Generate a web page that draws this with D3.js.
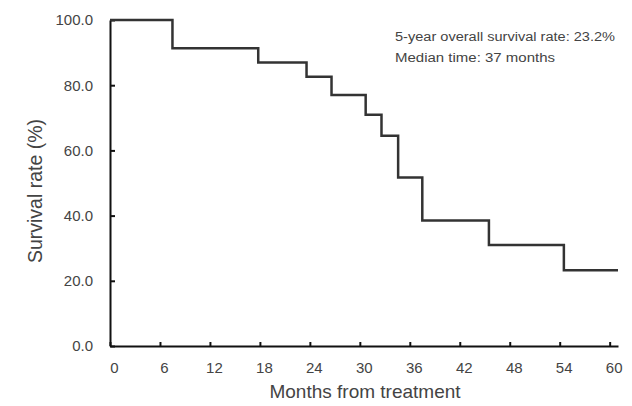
<!DOCTYPE html>
<html>
<head>
<meta charset="utf-8">
<script src="https://cdn.jsdelivr.net/npm/d3@7"></script>
<style>
	body { margin: 0; background: #fff; }
	svg text { font-family: 'Liberation Sans', Arial, sans-serif; fill: #444; }
</style>
</head>
<body>
<svg id="km_chart" width="632" height="406"></svg>
<script>
// Kaplan-Meier steps
var months = [0, 7.5, 17.8, 23.6, 26.6, 30.7, 32.6, 34.6, 37.5, 45.5, 54.5, 61];
var survival = [100, 91.3, 87.0, 82.6, 77.0, 70.9, 64.5, 51.7, 38.5, 31.0, 23.2, 23.2];
var xTicks = [0, 6, 12, 18, 24, 30, 36, 42, 48, 54, 60];
var yTicks = [0, 20, 40, 60, 80, 100];
var notes = ['5-year overall survival rate: 23.2%', 'Median time: 37 months'];
var noteWidths = [220, 160];

var svg = d3.select('#km_chart');

var x = d3.scaleLinear().domain([0, 61]).range([110, 618]);
var y = d3.scaleLinear().domain([0, 100]).range([346, 20]);

var pts = months.map(function(m, i) {
	return { m: m, s: survival[i] };
});

var xAxis = svg.append('g')
	.attr('transform', 'translate(0,' + y(0) + ')')
	.call(d3.axisBottom(x).tickValues(xTicks).tickSizeInner(-4).tickSizeOuter(0).tickPadding(16));

var yAxis = svg.append('g')
	.attr('transform', 'translate(' + x(0) + ',0)')
	.call(d3.axisLeft(y).tickValues(yTicks).tickFormat(d3.format('.1f')).tickSizeInner(-5).tickSizeOuter(0).tickPadding(17));

[xAxis, yAxis].forEach(function(a) {
	a.select('.domain').attr('stroke', '#111').attr('stroke-width', 2);
	a.selectAll('.tick line').attr('stroke', '#111').attr('stroke-width', 2);
	a.selectAll('.tick text').style('font-size', '15px').attr('fill', '#666');
});
xAxis.selectAll('.tick text').attr('dx', 4);

svg.append('path')
	.datum(pts)
	.attr('fill', 'none')
	.attr('stroke', '#333')
	.attr('stroke-width', 2.5)
	.attr('d', d3.line()
		.x(function(d) { return x(d.m); })
		.y(function(d) { return y(d.s); })
		.curve(d3.curveStepAfter));

svg.append('text')
	.attr('x', 365)
	.attr('y', 398)
	.attr('text-anchor', 'middle')
	.style('font-size', '19px')
	.text('Months from treatment');

svg.append('text')
	.attr('transform', 'translate(42,191) rotate(-90)')
	.attr('text-anchor', 'middle')
	.style('font-size', '19.5px')
	.text('Survival rate (%)');

svg.selectAll('.note')
	.data(notes)
	.enter()
	.append('text')
	.attr('class', 'note')
	.attr('x', 395)
	.attr('y', function(d, i) { return 41 + i * 21; })
	.attr('textLength', function(d, i) { return noteWidths[i]; })
	.attr('lengthAdjust', 'spacingAndGlyphs')
	.style('font-size', '12px')
	.attr('fill', '#333')
	.text(function(d) { return d; });
</script>
</body>
</html>
